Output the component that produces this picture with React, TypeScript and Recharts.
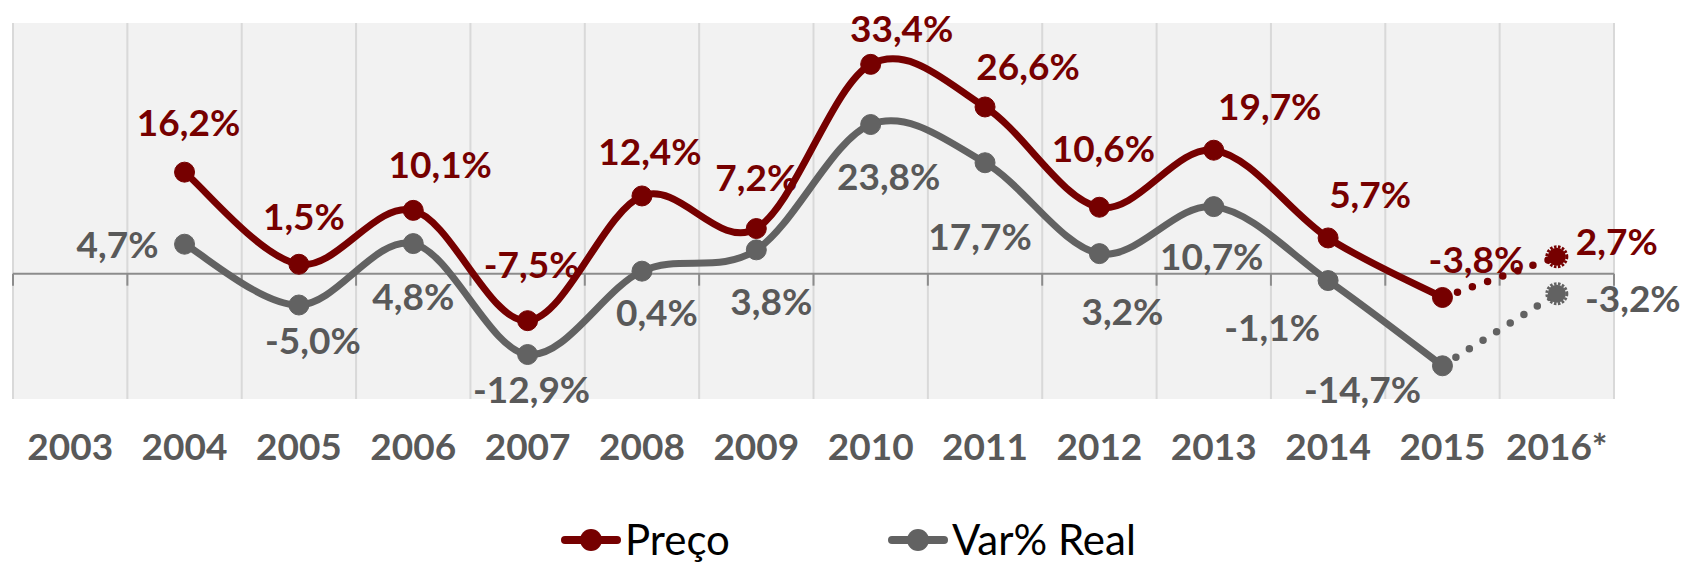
import React from "react";
import {
  LineChart,
  Line,
  XAxis,
  YAxis,
  CartesianGrid,
  ReferenceLine,
  Legend,
  LabelList,
} from "recharts";

const YEARS = [
  "2003", "2004", "2005", "2006", "2007", "2008", "2009",
  "2010", "2011", "2012", "2013", "2014", "2015", "2016*",
];
const PRECO = [null, 16.2, 1.5, 10.1, -7.5, 12.4, 7.2, 33.4, 26.6, 10.6, 19.7, 5.7, -3.8, 2.7];
const VAR_REAL = [null, 4.7, -5.0, 4.8, -12.9, 0.4, 3.8, 23.8, 17.7, 3.2, 10.7, -1.1, -14.7, -3.2];
const LAST_ACTUAL = 12; // 2015, 2016* is an estimate

// label offsets from the point (label centre), per year
const PRECO_LABEL_OFFSET = [
  [0, 0], [4, -49], [5, -48], [27, -46], [4, -56], [8, -44], [0, -51],
  [31, -36], [43, -40], [4, -59], [56, -44], [42, -43], [34, -38], [60, -15],
];
const VAR_LABEL_OFFSET = [
  [0, 0], [-67, 0], [14, 36], [0, 53], [4, 35], [15, 42], [15, 52],
  [18, 52], [-5, 74], [23, 58], [-2, 50], [-56, 47], [-80, 24], [76, 5],
];

const RED = "#760000";
const GRAY = "#626262";
const LABEL_GRAY = "#595959";
const FONT = "Lato, 'Open Sans', sans-serif";

const data = YEARS.map((year, i) => ({
  i,
  year,
  preco: i <= LAST_ACTUAL ? PRECO[i] : null,
  precoProj: i >= LAST_ACTUAL ? PRECO[i] : null,
  varReal: i <= LAST_ACTUAL ? VAR_REAL[i] : null,
  varProj: i >= LAST_ACTUAL ? VAR_REAL[i] : null,
}));

// Excel-like smoothing (Catmull-Rom through the points)
const smooth = (context: any) => {
  let pts: number[][] = [];
  return {
    areaStart() {},
    areaEnd() {},
    lineStart() {
      pts = [];
    },
    point(x: number, y: number) {
      pts.push([+x, +y]);
    },
    lineEnd() {
      const n = pts.length;
      if (!n) return;
      context.moveTo(pts[0][0], pts[0][1]);
      for (let k = 0; k < n - 1; k++) {
        const p0 = pts[Math.max(k - 1, 0)];
        const p1 = pts[k];
        const p2 = pts[k + 1];
        const p3 = pts[Math.min(k + 2, n - 1)];
        context.bezierCurveTo(
          p1[0] + (p2[0] - p0[0]) / 6,
          p1[1] + (p2[1] - p0[1]) / 6,
          p2[0] - (p3[0] - p1[0]) / 6,
          p2[1] - (p3[1] - p1[1]) / 6,
          p2[0],
          p2[1]
        );
      }
    },
  };
};

const fmt = (v: number) => v.toFixed(1).replace(".", ",") + "%";

const makeLabel =
  (offsets: number[][], color: string, only?: number) => (props: any) => {
    const { x, y, value, index } = props;
    if (value == null || (only != null && index !== only)) return null;
    if (only == null && index > LAST_ACTUAL) return null;
    const [dx, dy] = offsets[index];
    return (
      <text
        x={x + dx}
        y={y + dy}
        dy="0.36em"
        textAnchor="middle"
        fill={color}
        fontFamily={FONT}
        fontWeight={700}
        fontSize={37}
      >
        {fmt(value)}
      </text>
    );
  };

const projDot = (color: string) => (props: any) => {
  const { cx, cy, index } = props;
  if (index !== YEARS.length - 1 || cx == null) return <g key={`pd-${index}`} />;
  return (
    <g key={`pd-${index}`}>
      <circle cx={cx} cy={cy} r={9} fill={color} />
      <circle
        cx={cx}
        cy={cy}
        r={10}
        fill="none"
        stroke={color}
        strokeWidth={3}
        strokeDasharray="2.5 1.5"
      />
    </g>
  );
};

const XTick = (props: any) => {
  const { x, y, payload } = props;
  return (
    <text
      x={x}
      y={y + 48}
      dy="0.36em"
      textAnchor="middle"
      fill="#595959"
      fontFamily={FONT}
      fontWeight={700}
      fontSize={37}
    >
      {YEARS[payload.value]}
    </text>
  );
};

const ZeroAxis = (props: any) => {
  const { x1, y1, x2 } = props;
  const step = (x2 - x1) / YEARS.length;
  return (
    <g>
      <line x1={x1} y1={y1} x2={x2} y2={y1} stroke="#8c8c8c" strokeWidth={2} />
      {YEARS.concat([""]).map((_, k) => (
        <line
          key={k}
          x1={x1 + k * step}
          x2={x1 + k * step}
          y1={y1}
          y2={y1 + 12}
          stroke="#8c8c8c"
          strokeWidth={2}
        />
      ))}
    </g>
  );
};

const LEGEND_ITEMS = [
  { name: "Preço", color: RED, x: 561 },
  { name: "Var% Real", color: GRAY, x: 888 },
];

const LegendContent = () => (
  <svg width={1683} height={50} style={{ display: "block" }}>
    {LEGEND_ITEMS.map((it) => (
      <g key={it.name}>
        <line
          x1={it.x + 4}
          x2={it.x + 56}
          y1={27}
          y2={27}
          stroke={it.color}
          strokeWidth={8}
          strokeLinecap="round"
        />
        <circle cx={it.x + 30} cy={27} r={11} fill={it.color} />
        <text x={it.x + 64} y={42} fill="#000" fontFamily={FONT} fontSize={42}>
          {it.name}
        </text>
      </g>
    ))}
  </svg>
);

const gridTicks = YEARS.map((_, k) => k - 0.5).concat([YEARS.length - 0.5]);
const yearTicks = YEARS.map((_, k) => k);

export default function App() {
  return (
    <div style={{ position: "absolute", left: 0, top: 0, width: 1683, height: 563, background: "#fff" }}>
      <LineChart
        width={1683}
        height={563}
        data={data}
        margin={{ top: 23, right: 69, left: 13, bottom: 0 }}
      >
        <CartesianGrid
          xAxisId="grid"
          horizontal={false}
          vertical={true}
          fill="#f2f2f2"
          stroke="#d9d9d9"
          strokeWidth={2}
        />
        <XAxis
          dataKey="i"
          type="number"
          domain={[-0.5, YEARS.length - 0.5]}
          ticks={yearTicks}
          interval={0}
          axisLine={false}
          tickLine={false}
          tickSize={0}
          tickMargin={0}
          height={114}
          tick={<XTick />}
        />
        <XAxis
          xAxisId="grid"
          dataKey="i"
          type="number"
          domain={[-0.5, YEARS.length - 0.5]}
          ticks={gridTicks}
          interval={0}
          hide
        />
        <YAxis type="number" domain={[-20, 40]} hide />
        <ReferenceLine y={0} shape={<ZeroAxis />} />
        <Legend
          verticalAlign="bottom"
          height={50}
          content={<LegendContent />}
          wrapperStyle={{ left: 0, top: 513, width: 1683, height: 50 }}
        />

        <Line
          dataKey="varProj"
          name="Var% Real (estimativa)"
          legendType="none"
          type={smooth as any}
          stroke={GRAY}
          strokeWidth={7.5}
          strokeDasharray="0 16"
          strokeLinecap="round"
          dot={projDot(GRAY)}
          activeDot={false}
          isAnimationActive={false}
        >
          <LabelList dataKey="varProj" content={makeLabel(VAR_LABEL_OFFSET, LABEL_GRAY, YEARS.length - 1)} />
        </Line>
        <Line
          dataKey="varReal"
          name="Var% Real"
          type={smooth as any}
          stroke={GRAY}
          strokeWidth={7}
          dot={{ r: 10, fill: GRAY, stroke: GRAY, strokeWidth: 1 }}
          activeDot={false}
          isAnimationActive={false}
        >
          <LabelList dataKey="varReal" content={makeLabel(VAR_LABEL_OFFSET, LABEL_GRAY)} />
        </Line>
        <Line
          dataKey="precoProj"
          name="Preço (estimativa)"
          legendType="none"
          type={smooth as any}
          stroke={RED}
          strokeWidth={7.5}
          strokeDasharray="0 16"
          strokeLinecap="round"
          dot={projDot(RED)}
          activeDot={false}
          isAnimationActive={false}
        >
          <LabelList dataKey="precoProj" content={makeLabel(PRECO_LABEL_OFFSET, RED, YEARS.length - 1)} />
        </Line>
        <Line
          dataKey="preco"
          name="Preço"
          type={smooth as any}
          stroke={RED}
          strokeWidth={7}
          dot={{ r: 10, fill: RED, stroke: RED, strokeWidth: 1 }}
          activeDot={false}
          isAnimationActive={false}
        >
          <LabelList dataKey="preco" content={makeLabel(PRECO_LABEL_OFFSET, RED)} />
        </Line>
      </LineChart>
    </div>
  );
}
